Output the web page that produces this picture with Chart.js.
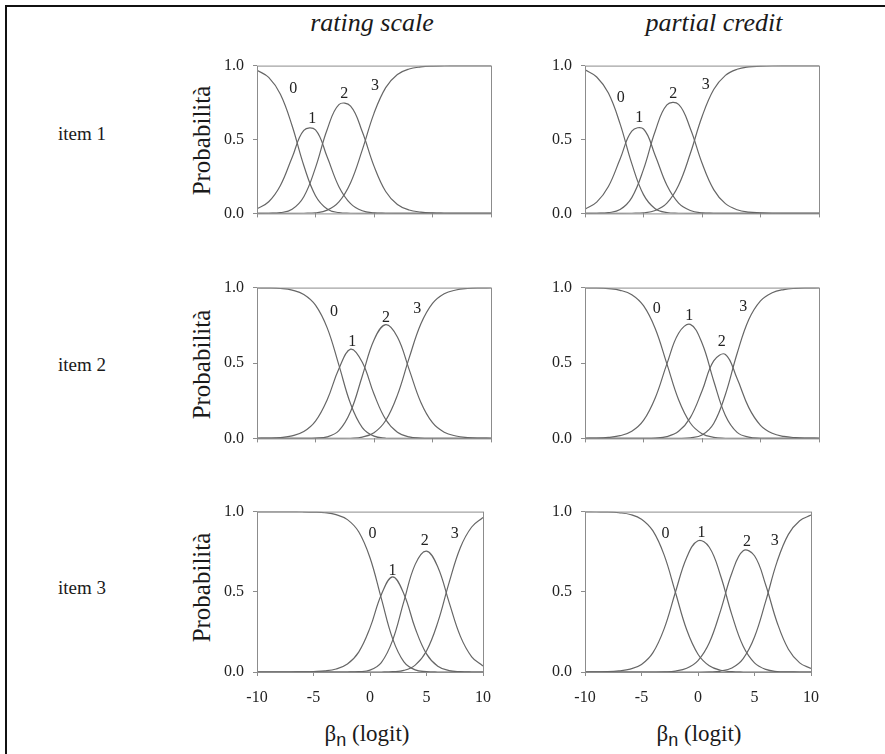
<!DOCTYPE html>
<html>
<head>
<meta charset="utf-8">
<script src="https://cdn.jsdelivr.net/npm/chart.js@4.4.1/dist/chart.umd.min.js"></script>
<style>
  body { margin: 0; background: #fff; width: 885px; height: 754px; overflow: hidden; position: relative; font-family: "Liberation Serif", serif; color: #1a1a1a; }
  .frame { position: absolute; left: 5px; top: 5px; width: 900px; height: 800px; border-left: 2px solid #111; border-top: 2px solid #111; }
  canvas { position: absolute; }
  .title { position: absolute; top: 10px; width: 240px; text-align: center; font-size: 26px; line-height: 26px; font-style: italic; }
  .item { position: absolute; left: 58px; font-size: 19px; line-height: 19px; }
  .ylab { position: absolute; width: 160px; height: 25px; font-size: 25px; line-height: 25px; text-align: center; transform: rotate(-90deg); }
  .xlab { position: absolute; top: 722px; width: 200px; text-align: center; font-size: 23px; line-height: 23px; }
  .xlab sub { font-family: "Liberation Sans", sans-serif; font-size: 18px; vertical-align: -5px; }
</style>
</head>
<body>
<div class="frame"></div>

<div class="title" style="left:252px">rating scale</div>
<div class="title" style="left:594px">partial credit</div>

<div class="item" style="top:124px">item 1</div>
<div class="item" style="top:355px">item 2</div>
<div class="item" style="top:578px">item 3</div>

<div class="ylab" style="left:121px; top:128px">Probabilità</div>
<div class="ylab" style="left:121px; top:352px">Probabilità</div>
<div class="ylab" style="left:121px; top:575px">Probabilità</div>

<div class="xlab" style="left:267px">β<sub>n</sub> (logit)</div>
<div class="xlab" style="left:599px">β<sub>n</sub> (logit)</div>

<canvas id="rs1"></canvas>
<canvas id="pc1"></canvas>
<canvas id="rs2"></canvas>
<canvas id="pc2"></canvas>
<canvas id="rs3"></canvas>
<canvas id="pc3"></canvas>

<script>
// ability values (logit) where the curves were read
const xLogit = [-10, -9, -8, -7, -6, -5, -4, -3, -2, -1, 0, 1, 2, 3, 4, 5, 6, 7, 8, 9, 10];
const categoryNames = ['0', '1', '2', '3'];
const xTicks = [-10, -5, 0, 5, 10];
const yTicks = [0, 0.5, 1];

// rating scale, item 1 (categories 0..3)
const rsItem1 = [
  [0.969, 0.920, 0.806, 0.593, 0.324, 0.120, 0.030, 0.005, 0.001, 0, 0, 0, 0, 0, 0, 0, 0, 0, 0, 0, 0],
  [0.031, 0.079, 0.189, 0.378, 0.562, 0.565, 0.381, 0.181, 0.066, 0.018, 0.004, 0.001, 0, 0, 0, 0, 0, 0, 0, 0, 0],
  [0, 0.001, 0.005, 0.028, 0.113, 0.310, 0.568, 0.736, 0.726, 0.552, 0.320, 0.148, 0.060, 0.023, 0.009, 0.003, 0.001, 0, 0, 0, 0],
  [0, 0, 0, 0, 0.001, 0.004, 0.022, 0.078, 0.208, 0.430, 0.677, 0.851, 0.940, 0.977, 0.991, 0.997, 0.999, 1, 1, 1, 1]
];
// partial credit, item 1
const pcItem1 = [
  [0.971, 0.923, 0.814, 0.606, 0.337, 0.127, 0.032, 0.006, 0.001, 0, 0, 0, 0, 0, 0, 0, 0, 0, 0, 0, 0],
  [0.029, 0.076, 0.182, 0.368, 0.556, 0.571, 0.392, 0.190, 0.070, 0.020, 0.004, 0.001, 0, 0, 0, 0, 0, 0, 0, 0, 0],
  [0, 0.001, 0.005, 0.026, 0.107, 0.298, 0.556, 0.734, 0.738, 0.575, 0.341, 0.161, 0.066, 0.025, 0.009, 0.004, 0.001, 0, 0, 0, 0],
  [0, 0, 0, 0, 0.001, 0.004, 0.020, 0.070, 0.191, 0.405, 0.654, 0.838, 0.934, 0.975, 0.991, 0.996, 0.999, 1, 1, 1, 1]
];
// rating scale, item 2
const rsItem2 = [
  [0.999, 0.998, 0.994, 0.983, 0.955, 0.884, 0.733, 0.486, 0.229, 0.072, 0.015, 0.002, 0, 0, 0, 0, 0, 0, 0, 0, 0],
  [0.001, 0.002, 0.006, 0.017, 0.045, 0.114, 0.256, 0.462, 0.592, 0.505, 0.294, 0.125, 0.041, 0.010, 0.002, 0, 0, 0, 0, 0, 0],
  [0, 0, 0, 0, 0, 0.002, 0.010, 0.051, 0.178, 0.414, 0.653, 0.754, 0.672, 0.458, 0.240, 0.104, 0.041, 0.016, 0.006, 0.002, 0.001],
  [0, 0, 0, 0, 0, 0, 0, 0, 0.001, 0.009, 0.038, 0.119, 0.287, 0.532, 0.758, 0.895, 0.959, 0.984, 0.994, 0.998, 0.999]
];
// partial credit, item 2
const pcItem2 = [
  [0.999, 0.998, 0.993, 0.982, 0.953, 0.880, 0.729, 0.494, 0.256, 0.102, 0.031, 0.007, 0.001, 0, 0, 0, 0, 0, 0, 0, 0],
  [0.001, 0.002, 0.007, 0.018, 0.047, 0.119, 0.268, 0.494, 0.697, 0.756, 0.632, 0.381, 0.152, 0.040, 0.008, 0.001, 0, 0, 0, 0, 0],
  [0, 0, 0, 0, 0, 0, 0.002, 0.012, 0.047, 0.138, 0.314, 0.514, 0.557, 0.397, 0.204, 0.087, 0.034, 0.013, 0.005, 0.002, 0.001],
  [0, 0, 0, 0, 0, 0, 0, 0, 0, 0.004, 0.022, 0.099, 0.291, 0.563, 0.788, 0.912, 0.966, 0.987, 0.995, 0.998, 0.999]
];
// rating scale, item 3
const rsItem3 = [
  [1, 1, 1, 1, 0.999, 0.997, 0.993, 0.981, 0.950, 0.874, 0.712, 0.459, 0.208, 0.063, 0.013, 0.002, 0, 0, 0, 0, 0],
  [0, 0, 0, 0, 0.001, 0.003, 0.007, 0.019, 0.050, 0.124, 0.275, 0.482, 0.593, 0.487, 0.273, 0.113, 0.036, 0.009, 0.002, 0, 0],
  [0, 0, 0, 0, 0, 0, 0, 0, 0, 0.002, 0.012, 0.059, 0.197, 0.440, 0.671, 0.754, 0.655, 0.434, 0.222, 0.095, 0.037],
  [0, 0, 0, 0, 0, 0, 0, 0, 0, 0, 0, 0, 0.002, 0.010, 0.043, 0.131, 0.309, 0.557, 0.776, 0.904, 0.963]
];
// partial credit, item 3
const pcItem3 = [
  [1, 0.999, 0.998, 0.993, 0.982, 0.953, 0.881, 0.730, 0.497, 0.263, 0.111, 0.039, 0.011, 0.002, 0, 0, 0, 0, 0, 0, 0],
  [0, 0.001, 0.002, 0.007, 0.018, 0.047, 0.119, 0.269, 0.497, 0.714, 0.818, 0.778, 0.600, 0.356, 0.160, 0.057, 0.016, 0.003, 0.001, 0, 0],
  [0, 0, 0, 0, 0, 0, 0, 0.001, 0.006, 0.023, 0.071, 0.182, 0.383, 0.617, 0.756, 0.725, 0.541, 0.309, 0.142, 0.057, 0.022],
  [0, 0, 0, 0, 0, 0, 0, 0, 0, 0, 0, 0.001, 0.006, 0.025, 0.084, 0.218, 0.443, 0.688, 0.858, 0.943, 0.978]
];

// where the category numbers sit, in [logit, probability]
const rsItem1Labels = [[-6.9, 0.84], [-5.27, 0.64], [-2.54, 0.81], [0.09, 0.86]];
const pcItem1Labels = [[-6.95, 0.78], [-5.36, 0.65], [-2.45, 0.81], [0.32, 0.87]];
const rsItem2Labels = [[-3.42, 0.84], [-1.85, 0.64], [1.03, 0.80], [3.7, 0.86]];
const pcItem2Labels = [[-3.87, 0.86], [-1.09, 0.81], [1.68, 0.64], [3.53, 0.87]];
const rsItem3Labels = [[0.23, 0.86], [1.99, 0.63], [4.85, 0.82], [7.5, 0.86]];
const pcItem3Labels = [[-2.88, 0.86], [0.31, 0.87], [4.33, 0.81], [6.8, 0.82]];

const AXIS_GREY = '#8c8c8c';
const CURVE_GREY = '#666';
const Y_AXIS_W = 60;
const PAD_TOP = 10;
const PAD_RIGHT = 12;

const panelDeco = {
  id: 'panelDeco',
  afterDraw(chart, args, opts) {
    const { ctx, chartArea: a, scales } = chart;
    ctx.save();
    ctx.strokeStyle = AXIS_GREY;
    ctx.lineWidth = 1;
    ctx.strokeRect(a.left + 0.5, a.top + 0.5, a.right - a.left, a.bottom - a.top);
    ctx.font = '16px "Liberation Serif"';
    ctx.fillStyle = '#222';
    ctx.textAlign = 'center';
    ctx.textBaseline = 'middle';
    opts.labels.forEach((p, i) => {
      ctx.fillText(categoryNames[i], scales.x.getPixelForValue(p[0]), scales.y.getPixelForValue(p[1]));
    });
    ctx.restore();
  }
};

function makePanel(id, curves, labels, plotLeft, plotTop, plotW, plotH, showX) {
  const xH = showX ? 34 : 8;
  const canvas = document.getElementById(id);
  canvas.width = Y_AXIS_W + plotW + PAD_RIGHT;
  canvas.height = PAD_TOP + plotH + xH;
  canvas.style.left = (plotLeft - Y_AXIS_W) + 'px';
  canvas.style.top = (plotTop - PAD_TOP) + 'px';

  const tickFont = { family: 'Liberation Serif', size: 16 };

  new Chart(canvas, {
    type: 'line',
    data: {
      datasets: curves.map((vals, k) => ({
        label: categoryNames[k],
        data: vals.map((v, i) => ({ x: xLogit[i], y: v })),
        borderColor: CURVE_GREY,
        borderWidth: 1.2,
        pointRadius: 0,
        tension: 0.4,
        fill: false
      }))
    },
    options: {
      responsive: false,
      animation: false,
      layout: { padding: { top: PAD_TOP, right: PAD_RIGHT, left: 0, bottom: 0 } },
      plugins: {
        legend: { display: false },
        tooltip: { enabled: false },
        panelDeco: { labels: labels }
      },
      scales: {
        x: {
          type: 'linear',
          min: -10,
          max: 10,
          afterBuildTicks: s => { s.ticks = xTicks.map(v => ({ value: v })); },
          afterFit: s => { s.height = xH; },
          grid: { drawOnChartArea: false, drawTicks: true, tickLength: 4, color: AXIS_GREY },
          border: { display: false },
          ticks: {
            display: showX,
            padding: 12,
            color: '#222',
            font: tickFont,
            maxRotation: 0,
            callback: v => String(v)
          }
        },
        y: {
          min: 0,
          max: 1,
          afterBuildTicks: s => { s.ticks = yTicks.map(v => ({ value: v })); },
          afterFit: s => { s.width = Y_AXIS_W; },
          grid: { drawOnChartArea: false, drawTicks: true, tickLength: 4, color: AXIS_GREY },
          border: { display: false },
          ticks: {
            padding: 9,
            color: '#222',
            font: tickFont,
            callback: v => v.toFixed(1)
          }
        }
      }
    },
    plugins: [panelDeco]
  });
}

makePanel('rs1', rsItem1, rsItem1Labels, 257, 57, 234, 167, false);
makePanel('pc1', pcItem1, pcItem1Labels, 585, 57, 234, 167, false);
makePanel('rs2', rsItem2, rsItem2Labels, 257, 279, 234, 170, false);
makePanel('pc2', pcItem2, pcItem2Labels, 585, 279, 234, 170, false);
makePanel('rs3', rsItem3, rsItem3Labels, 257, 503, 234, 169, true);
makePanel('pc3', pcItem3, pcItem3Labels, 585, 503, 234, 169, true);
</script>
</body>
</html>
